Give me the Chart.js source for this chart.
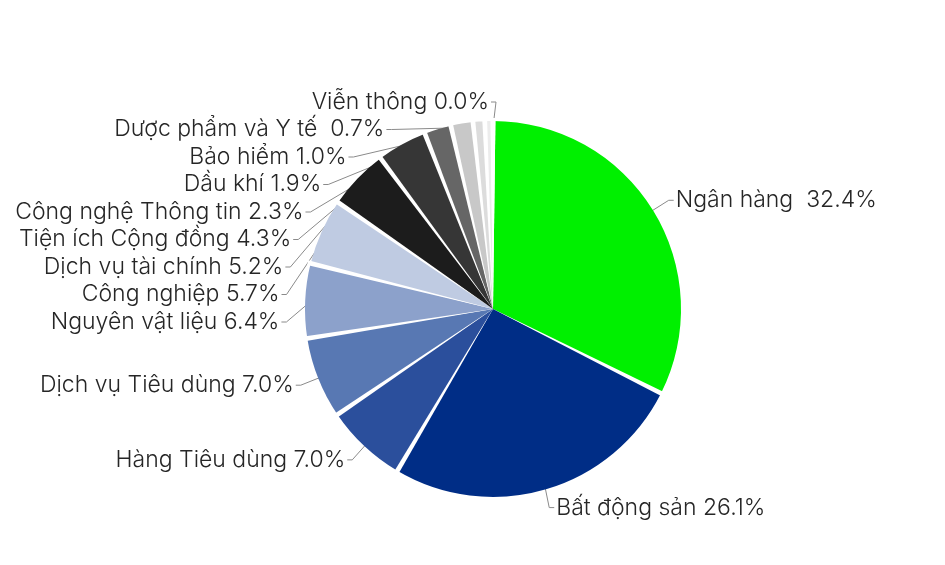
<!DOCTYPE html>
<html lang="vi">
<head>
<meta charset="utf-8">
<title>Cơ cấu theo ngành</title>
<script src="https://cdn.jsdelivr.net/npm/chart.js@4.4.1/dist/chart.umd.min.js"></script>
<style>
  html, body { margin: 0; padding: 0; background: #fff; }
  #wrap { position: relative; width: 945px; height: 565px; }
</style>
</head>
<body>
<div id="wrap"><canvas id="pieChart"></canvas></div>
<script>
// số liệu, theo chiều kim đồng hồ bắt đầu từ 12 giờ
const categories = [
    'Ngân hàng ', 'Bất động sản', 'Hàng Tiêu dùng', 'Dịch vụ Tiêu dùng',
    'Nguyên vật liệu', 'Công nghiệp', 'Dịch vụ tài chính', 'Tiện ích Cộng đồng',
    'Công nghệ Thông tin', 'Dầu khí', 'Bảo hiểm', 'Dược phẩm và Y tế ', 'Viễn thông'
];
const weights = [32.4, 26.1, 7.0, 7.0, 6.4, 5.7, 5.2, 4.3, 2.3, 1.9, 1.0, 0.7, 0.0];
const sliceColors = [
    '#00f000', '#002d86', '#2b4f9c', '#5878b3', '#8ca1cb', '#bfcbe2', '#1c1c1c',
    '#363636', '#666666', '#c8c8c8', '#dcdcdc', '#ececec', '#f4f4f4'
];

const LABEL_FONT = '300 23px Inter';
const LABEL_STEP = 27.5;   // khoảng cách dọc giữa các nhãn xếp chồng

// tính vị trí nhãn từ các cung của biểu đồ
function layoutLabels(chart) {
    const arcs = chart.getDatasetMeta(0).data;
    const cx = arcs[0].x, cy = arcs[0].y, R = arcs[0].outerRadius;
    const rx = R * 1.117, ry = R * 1.101;

    const items = arcs.map((arc, i) => {
        const mid = (arc.startAngle + arc.endAngle) / 2;
        return {
            text: categories[i] + ' ' + weights[i].toFixed(1) + '%',
            mid,
            left: mid > Math.PI / 2,
            y: cy + ry * Math.sin(mid),
            tx: cx + (R - 6) * Math.cos(mid),
            ty: cy + (R - 6) * Math.sin(mid)
        };
    });

    [true, false].forEach(side => {
        const group = items.filter(it => it.left === side).sort((a, b) => a.y - b.y);
        group.forEach((it, k) => {
            if (k > 0) it.y = Math.max(it.y, group[k - 1].y + LABEL_STEP);
            const d = Math.min(1, Math.abs(it.y - cy) / ry);
            const w = rx * Math.sqrt(1 - d * d);
            it.x = side ? cx - w - 4 : cx + w + 4;
        });
    });
    return items;
}

const leaderLines = {
    id: 'leaderLines',
    beforeDatasetsDraw(chart) {
        const ctx = chart.ctx;
        ctx.save();
        ctx.strokeStyle = '#8a8a8a';
        ctx.lineWidth = 1;
        layoutLabels(chart).forEach(it => {
            const dir = it.left ? 1 : -1;
            const x0 = it.x + dir * 2;
            ctx.beginPath();
            ctx.moveTo(x0, it.y);
            ctx.lineTo(x0 + dir * 5, it.y);
            ctx.lineTo(it.tx, it.ty);
            ctx.stroke();
        });
        ctx.restore();
    },
    afterDatasetsDraw(chart) {
        const ctx = chart.ctx;
        const arcs = chart.getDatasetMeta(0).data;

        // khe trắng hình nêm giữa các lát
        ctx.save();
        ctx.fillStyle = '#ffffff';
        arcs.forEach(arc => {
            const r = arc.outerRadius + 3;
            const half = 2.4 / arc.outerRadius;
            ctx.beginPath();
            ctx.moveTo(arc.x, arc.y);
            ctx.lineTo(arc.x + Math.cos(arc.startAngle - half) * r, arc.y + Math.sin(arc.startAngle - half) * r);
            ctx.lineTo(arc.x + Math.cos(arc.startAngle + half) * r, arc.y + Math.sin(arc.startAngle + half) * r);
            ctx.closePath();
            ctx.fill();
        });

        // nhãn
        ctx.font = LABEL_FONT;
        ctx.fillStyle = '#262626';
        ctx.textBaseline = 'middle';
        layoutLabels(chart).forEach(it => {
            ctx.textAlign = it.left ? 'right' : 'left';
            ctx.fillText(it.text, it.x, it.y);
        });
        ctx.restore();
    }
};

new Chart(document.getElementById('pieChart'), {
    type: 'pie',
    data: {
        labels: categories,
        datasets: [{
            data: weights,
            backgroundColor: sliceColors,
            borderWidth: 0
        }]
    },
    options: {
        responsive: true,
        maintainAspectRatio: false,
        animation: false,
        radius: 188,
        layout: { padding: { left: 41, top: 53, right: 0, bottom: 0 } },
        plugins: {
            legend: { display: false },
            tooltip: { enabled: false }
        }
    },
    plugins: [leaderLines]
});
</script>
</body>
</html>
